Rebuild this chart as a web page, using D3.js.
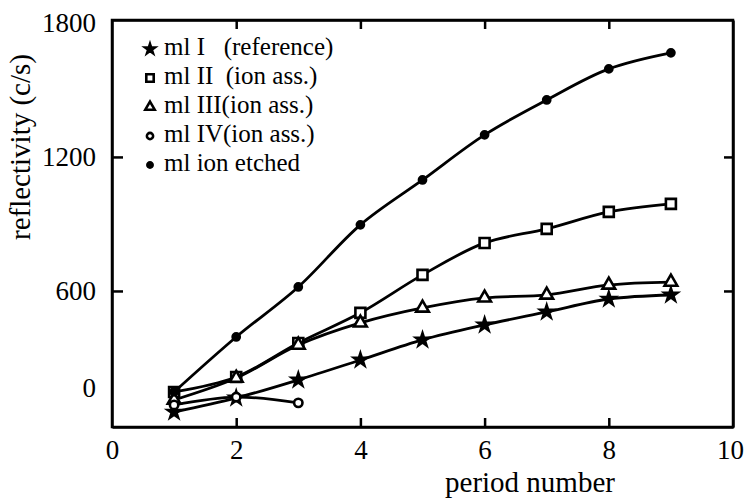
<!DOCTYPE html>
<html>
<head>
<meta charset="utf-8">
<script src="https://cdn.jsdelivr.net/npm/d3@7"></script>
<style>
  body { margin: 0; background: #fff; }
  svg text { font-family: "Liberation Serif", "Times New Roman", serif; fill: #000; }
  .axis path, .axis line { stroke: #000; stroke-width: 2.5; }
</style>
</head>
<body>
<svg id="chart" width="744" height="500"></svg>
<script>
// data
var periods = [1, 2, 3, 4, 5, 6, 7, 8, 9];
var mlI = [58, 121, 202, 291, 381, 448, 506, 564, 582];
var mlII = [148, 215, 367, 502, 672, 815, 878, 954, 990];
var mlIII = [112, 210, 358, 457, 524, 569, 582, 627, 640];
var mlIVPeriods = [1, 2, 3];
var mlIV = [90, 125, 99];
var mlEtched = [148, 394, 618, 896, 1097, 1299, 1455, 1594, 1666];

var legendLabels = ['ml I   (reference)', 'ml II  (ion ass.)', 'ml III(ion ass.)', 'ml IV(ion ass.)', 'ml ion etched'];
var xTicks = [0, 2, 4, 6, 8, 10];
var yTicks = [0, 600, 1200, 1800];

var svg = d3.select('#chart'),
	margin = { top: 20, right: 11, bottom: 73, left: 112 },
	width = 744 - margin.left - margin.right,
	height = 500 - margin.top - margin.bottom;

var x = d3.scaleLinear().domain([0, 10]).range([0, width]);
var y = d3.scaleLinear().domain([-9, 1813]).range([height, 0]);

var g = svg.append('g')
	.attr('transform', 'translate(' + margin.left + ',' + margin.top + ')');

// axes, ticks point inward
g.append('g')
	.attr('class', 'axis')
	.attr('transform', 'translate(0,' + height + ')')
	.call(d3.axisBottom(x).tickValues(xTicks).tickSizeInner(-9).tickSizeOuter(0).tickPadding(13).tickFormat(d3.format('d')))
	.call(function(a) {
		a.selectAll('text').style('font-size', '27px');
		a.selectAll('.tick').filter(function(d) { return d === 0 || d === 10; }).select('line').remove();
		a.selectAll('.tick').filter(function(d) { return d === 10; }).select('text').attr('dx', '-3');
	});

g.append('g')
	.attr('class', 'axis')
	.call(d3.axisTop(x).tickValues([2, 4, 6, 8]).tickSizeInner(-9).tickSizeOuter(0).tickFormat(''));

g.append('g')
	.attr('class', 'axis')
	.call(d3.axisLeft(y).tickValues(yTicks).tickSizeInner(-11).tickSizeOuter(0).tickPadding(16).tickFormat(d3.format('d')))
	.call(function(a) {
		a.selectAll('text').style('font-size', '27px');
		a.selectAll('.tick').filter(function(d) { return d === 0 || d === 1800; }).select('line').remove();
		// the original prints its "0" a little above the frame
		a.selectAll('.tick').filter(function(d) { return d === 0; }).select('text').attr('y', -37);
	});

g.append('g')
	.attr('class', 'axis')
	.attr('transform', 'translate(' + width + ',0)')
	.call(d3.axisRight(y).tickValues([600, 1200]).tickSizeInner(-9).tickSizeOuter(0).tickFormat(''));

g.append('rect')
	.attr('width', width)
	.attr('height', height)
	.attr('fill', 'none')
	.attr('stroke', '#000')
	.attr('stroke-width', 2.5);

// axis titles
svg.append('text')
	.attr('x', 530)
	.attr('y', 492)
	.attr('text-anchor', 'middle')
	.style('font-size', '29px')
	.text('period number');

svg.append('text')
	.attr('transform', 'translate(30,147) rotate(-90)')
	.attr('text-anchor', 'middle')
	.style('font-size', '29px')
	.text('reflectivity (c/s)');

// series
var series = [
	{ xs: periods, ys: mlI, symbol: d3.symbolStar, size: 50, fill: '#000' },
	{ xs: periods, ys: mlII, symbol: d3.symbolSquare, size: 100, fill: '#fff' },
	{ xs: periods, ys: mlIII, symbol: d3.symbolTriangle, size: 70, fill: '#fff' },
	{ xs: mlIVPeriods, ys: mlIV, symbol: d3.symbolCircle, size: 55, fill: '#fff' },
	{ xs: periods, ys: mlEtched, symbol: d3.symbolCircle, size: 40, fill: '#000' }
];

var line = d3.line()
	.x(function(d) { return x(d[0]); })
	.y(function(d) { return y(d[1]); })
	.curve(d3.curveCatmullRom);

series.forEach(function(s) {
	var pts = s.xs.map(function(v, i) { return [v, s.ys[i]]; });
	g.append('path')
		.datum(pts)
		.attr('d', line)
		.attr('fill', 'none')
		.attr('stroke', '#000')
		.attr('stroke-width', 2.8);
	g.selectAll(null)
		.data(pts)
		.enter()
		.append('path')
		.attr('transform', function(d) { return 'translate(' + x(d[0]) + ',' + y(d[1]) + ')'; })
		.attr('d', d3.symbol().type(s.symbol).size(s.size))
		.attr('fill', s.fill)
		.attr('stroke', '#000')
		.attr('stroke-width', 2.6);
});

// legend
var legend = svg.append('g').attr('transform', 'translate(150,46)');
var rows = legend.selectAll('g')
	.data(series)
	.enter()
	.append('g')
	.attr('transform', function(d, i) { return 'translate(0,' + (i * 29) + ')'; });

rows.append('path')
	.attr('transform', 'translate(0,3)')
	.attr('d', function(d) { return d3.symbol().type(d.symbol).size(d.size * 0.55)(); })
	.attr('fill', function(d) { return d.fill; })
	.attr('stroke', '#000')
	.attr('stroke-width', 2.6);

rows.append('text')
	.attr('x', 14)
	.attr('y', 9)
	.style('font-size', '25px')
	.style('white-space', 'pre')
	.attr('xml:space', 'preserve')
	.text(function(d, i) { return legendLabels[i]; });
</script>
</body>
</html>
